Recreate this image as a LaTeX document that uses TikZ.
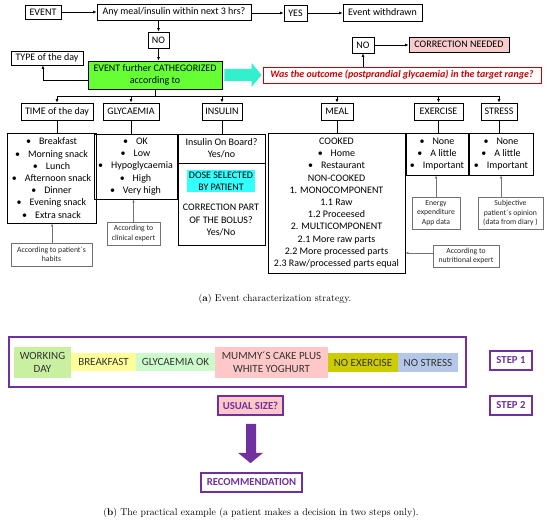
\documentclass[tikz,border=0pt]{standalone}
\usepackage{fontspec}
\newfontfamily\carl{Carlito}
\usetikzlibrary{arrows.meta,calc}
\definecolor{limeg}{RGB}{102,255,51}
\definecolor{turq}{RGB}{51,240,204}
\definecolor{redb}{RGB}{204,0,0}
\definecolor{pinkc}{RGB}{248,204,204}
\definecolor{cyanh}{RGB}{51,255,255}
\definecolor{myp}{RGB}{112,48,160}
\definecolor{cwork}{RGB}{200,240,160}
\definecolor{cbreak}{RGB}{255,255,153}
\definecolor{cgly}{RGB}{204,250,204}
\definecolor{cmum}{RGB}{255,200,200}
\definecolor{cexe}{RGB}{204,204,0}
\definecolor{cstr}{RGB}{180,199,231}
\newcommand\mkbox[7]{\node[#6, minimum width={#4-#2}, minimum height={#5-#3}] (#1) at ({(#2+#4)/2},{(#3+#5)/2}) {#7};}
\newcommand\bul[1]{\textbullet\hspace{8pt}#1}
\tikzset{
 bx/.style={draw, line width=0.9pt, inner sep=1pt, align=center, font=\carl\fontsize{10}{12.2}\selectfont},
 nb/.style={draw=black!55, line width=0.6pt, inner sep=1pt, align=center, font=\carl\fontsize{7.7}{9.4}\selectfont, text=black!85},
 arr/.style={-{Latex[length=3.5pt,width=3pt]}, line width=0.9pt},
 garr/.style={-{Latex[length=3pt,width=2.6pt]}, line width=0.6pt, draw=black!55},
 ln/.style={line width=0.9pt},
 cb/.style={inner sep=1pt, align=center, font=\carl\fontsize{11}{13}\selectfont, text=black!80},
 pb/.style={draw=myp, line width=1.6pt, inner sep=1pt, align=center, font=\carl\bfseries\fontsize{10.7}{12}\selectfont, text=myp},
 captxt/.style={font=\fontsize{9.8}{11}\selectfont}
}
\begin{document}
\begin{tikzpicture}[x=1pt,y=-1pt]
\useasboundingbox[fill=white] (0,0) rectangle (550,526);
% top row
\mkbox{event}{25}{5}{61}{19}{bx}{EVENT}
\mkbox{anymeal}{97}{4}{251}{20}{bx}{Any meal/insulin within next 3 hrs?}
\mkbox{yes}{284}{5}{307}{21}{bx}{YES}
\mkbox{withdrawn}{343}{4}{422}{21}{bx}{Event withdrawn}
\mkbox{noa}{148}{32}{169}{48}{bx}{NO}
\mkbox{type}{11}{51}{83}{65}{bx}{TYPE of the day}
\mkbox{green}{88}{61}{222}{89}{bx,fill=limeg}{EVENT further CATHEGORIZED\\according to}
\mkbox{red}{263}{67}{541}{83}{bx,draw=redb,text=redb,font=\carl\bfseries\itshape\fontsize{10}{12}\selectfont}{Was the outcome (postprandial glycaemia) in the target range?}
\mkbox{nob}{352}{37}{374}{53}{bx}{NO}
\mkbox{corr}{409}{37}{509}{52}{bx,fill=pinkc}{CORRECTION NEEDED}
% headers
\mkbox{time}{21}{103}{93}{120}{bx}{TIME of the day}
\mkbox{gly}{103}{103}{159}{120}{bx}{GLYCAEMIA}
\mkbox{ins}{202}{103}{242}{120}{bx}{INSULIN}
\mkbox{meal}{321}{103}{353}{120}{bx}{MEAL}
\mkbox{exer}{414}{103}{463}{120}{bx}{EXERCISE}
\mkbox{stress}{481}{103}{517}{120}{bx}{STRESS}
% lists
\mkbox{timel}{7}{133}{96}{223}{bx}{\bul{Breakfast}\\\bul{Morning snack}\\\bul{Lunch}\\\bul{Afternoon snack}\\\bul{Dinner}\\\bul{Evening snack}\\\bul{Extra snack}}
\mkbox{glyl}{94}{134}{177}{199}{bx}{\bul{OK}\\\bul{Low}\\\bul{Hypoglycaemia}\\\bul{High}\\\bul{Very high}}
\mkbox{insa}{178}{134}{265}{163}{bx}{Insulin On Board?\\Yes/no}
\mkbox{insb}{178}{163}{265}{245}{bx}{}
\node[bx, draw=none, fill=cyanh, text=black, inner sep=1.5pt] (dose) at (221,181) {DOSE SELECTED\\BY PATIENT};
\node[bx, draw=none, text=black] (corrpart) at (221,220) {CORRECTION PART\\OF THE BOLUS?\\Yes/No};
\mkbox{meall}{268}{133}{405}{273}{bx}{COOKED\\\bul{Home}\\\bul{Restaurant}\\NON-COOKED\\1. MONOCOMPONENT\\1.1 Raw\\1.2 Proceesed\\2. MULTICOMPONENT\\2.1 More raw parts\\2.2 More processed parts\\2.3 Raw/processed parts equal}
\mkbox{exerl}{406}{133}{468}{175}{bx}{\bul{None}\\\bul{A little}\\\bul{Important}}
\mkbox{stressl}{469}{133}{533}{175}{bx}{\bul{None}\\\bul{A little}\\\bul{Important}}
% notes
\mkbox{habits}{11}{243}{92}{266}{nb}{According to patient´s\\habits}
\mkbox{clin}{107}{222}{160}{245}{nb}{According to\\clinical expert}
\mkbox{energy}{412}{197}{460}{229}{nb}{Energy\\expenditure\\App data}
\mkbox{subj}{478}{197}{543}{229}{nb}{Subjective\\patient´s opinion\\(data from diary )}
\mkbox{nutr}{433}{245}{499}{267}{nb}{According to\\nutritional expert}
% connectors top
\draw[arr] (event.east) -- (event.east -| anymeal.west);
\draw[arr] (anymeal.east |- yes.west) -- (yes.west);
\draw[arr] (yes.east) -- (yes.east -| withdrawn.west);
\draw[arr] (noa.north |- anymeal.south) -- (noa.north);
\draw[arr] (noa.south) -- (noa.south |- green.north);
\coordinate (gw) at ($(green.west)+(0,5)$);
\coordinate (ts) at ($(type.south)+(-4,0)$);
\draw[arr] (gw) -| (ts);
\fill[turq] ($(green.east)+(2,-6)$) -- ($(red.west)+(-11,-6)$) -- ($(red.west)+(-11,-12)$) -- ($(red.west)+(-1,0)$) -- ($(red.west)+(-11,12)$) -- ($(red.west)+(-11,6)$) -- ($(green.east)+(2,6)$) -- cycle;
\draw[arr] (nob.south |- red.north) -- (nob.south);
\draw[arr] (nob.east) -- (nob.east -| corr.west);
% bus
\coordinate (bus) at ($(green.south)+(0,7)$);
\draw[ln] (green.south) -- (bus);
\draw[ln] (bus -| time.north) -- (bus -| stress.north);
\foreach \n in {time,gly,ins,meal,exer,stress}{\draw[arr] (bus -| \n.north) -- (\n.north);}
\draw[ln] (time.south) -- (time.south |- timel.north);
\draw[ln] (gly.south) -- (gly.south |- glyl.north);
\draw[ln] (ins.south) -- (ins.south |- insa.north);
\draw[ln] (meal.south) -- (meal.south |- meall.north);
\draw[ln] (exer.south) -- (exer.south |- exerl.north);
\draw[ln] (stress.south) -- (stress.south |- stressl.north);
% notes arrows
\coordinate (hn) at ($(habits.north)+(0.5,0)$);
\draw[garr] (hn) -- (hn |- timel.south);
\draw[garr] (clin.north) -- (clin.north |- glyl.south);
\draw[garr] (energy.north) -- (energy.north |- exerl.south);
\draw[garr] (subj.north -| stressl.south) -- (stressl.south);
\coordinate (nw) at ($(nutr.west)+(0,-3)$);
\draw[garr] (nw) -- (nw -| meall.east);
% caption a
\node[captxt] (capa) at (275,299) {(\textbf{a}) Event characterization strategy.};
% bottom part
\mkbox{frame}{9}{337}{466}{387}{draw=myp, line width=1.8pt}{}
\mkbox{work}{14}{347}{71}{378}{cb,fill=cwork}{WORKING\\DAY}
\mkbox{brk}{71}{353}{136}{371}{cb,fill=cbreak}{BREAKFAST}
\mkbox{glyok}{136}{353}{215}{371}{cb,fill=cgly}{GLYCAEMIA OK}
\mkbox{mum}{215}{347}{328}{378}{cb,fill=cmum}{MUMMY´S CAKE PLUS\\WHITE YOGHURT}
\mkbox{noex}{328}{353}{398}{372}{cb,fill=cexe}{NO EXERCISE}
\mkbox{nost}{398}{353}{458}{372}{cb,fill=cstr}{NO STRESS}
\mkbox{step1}{490}{351}{532}{370}{pb}{STEP 1}
\mkbox{step2}{490}{396}{532}{415}{pb}{STEP 2}
\mkbox{usual}{218}{396}{283}{415}{pb,fill=cmum}{USUAL SIZE?}
\mkbox{rec}{201}{473}{302}{492}{pb}{RECOMMENDATION}
\fill[myp] ($(usual.south)+(-4.5,8)$) -- ($(usual.south)+(5.5,8)$) -- ($(usual.south)+(5.5,37)$) -- ($(usual.south)+(12.5,37)$) -- ($(rec.north)+(-1,-9)$) -- ($(usual.south)+(-12.5,37)$) -- ($(usual.south)+(-4.5,37)$) -- cycle;
\node[captxt] (capb) at (261,513) {(\textbf{b}) The practical example (a patient makes a decision in two steps only).};
\end{tikzpicture}
\end{document}
